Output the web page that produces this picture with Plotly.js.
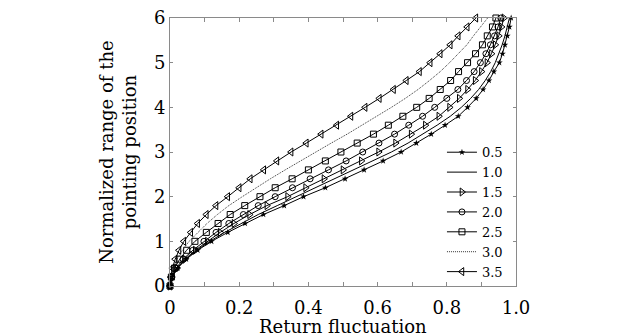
<!DOCTYPE html>
<html>
<head>
<meta charset="utf-8">
<script src="https://cdn.plot.ly/plotly-3.0.1.min.js"></script>
<style>html,body{margin:0;padding:0;background:#fff;}#chart{width:618px;height:336px;}</style>
</head>
<body>
<div id="chart"></div>
<script>
// Normalized range of the pointing position (shared y grid)
const yRange = [0,0.2,0.4,0.6,0.8,1.0,1.2,1.4,1.6,1.8,2.0,2.2,2.4,2.6,2.8,3.0,3.2,3.4,3.6,3.8,4.0,4.2,4.4,4.6,4.8,5.0,5.2,5.4,5.6,5.8,6.0];
// Return fluctuation for each parameter value
const x05 = [0,0.006,0.022,0.047,0.08,0.12,0.167,0.217,0.27,0.33,0.386,0.449,0.506,0.561,0.616,0.668,0.712,0.755,0.795,0.833,0.86,0.885,0.905,0.922,0.936,0.952,0.961,0.968,0.975,0.981,0.986];
const x10 = [0,0.006,0.021,0.045,0.077,0.115,0.158,0.205,0.255,0.31,0.365,0.423,0.48,0.535,0.59,0.64,0.688,0.732,0.772,0.81,0.842,0.869,0.892,0.911,0.927,0.94,0.951,0.96,0.968,0.975,0.981];
const x15 = [0,0.005,0.02,0.043,0.073,0.108,0.145,0.185,0.23,0.28,0.34,0.392,0.445,0.5,0.553,0.603,0.652,0.697,0.738,0.777,0.808,0.836,0.86,0.882,0.9,0.916,0.929,0.94,0.95,0.958,0.965];
const x20 = [0,0.005,0.018,0.038,0.066,0.098,0.133,0.17,0.212,0.255,0.304,0.354,0.405,0.458,0.509,0.557,0.604,0.649,0.69,0.73,0.765,0.8,0.832,0.857,0.879,0.897,0.913,0.926,0.938,0.948,0.956];
const x25 = [0,0.004,0.013,0.028,0.048,0.072,0.105,0.139,0.174,0.216,0.26,0.304,0.353,0.4,0.449,0.494,0.541,0.588,0.631,0.673,0.713,0.749,0.781,0.811,0.834,0.86,0.883,0.903,0.917,0.932,0.942];
const x30 = [0,0.003,0.01,0.02,0.036,0.055,0.081,0.107,0.137,0.17,0.209,0.248,0.29,0.333,0.376,0.42,0.466,0.512,0.556,0.598,0.64,0.68,0.717,0.75,0.781,0.808,0.834,0.858,0.877,0.898,0.918];
const x35 = [0,0.002,0.007,0.015,0.026,0.04,0.06,0.08,0.105,0.133,0.167,0.2,0.232,0.271,0.309,0.35,0.394,0.437,0.482,0.523,0.564,0.605,0.646,0.683,0.721,0.752,0.781,0.81,0.833,0.859,0.884];
const seriesNames = ['0.5','1.0','1.5','2.0','2.5','3.0','3.5'];
const xTickVals = [0,0.2,0.4,0.6,0.8,1.0];
const xTickText = ['0','0.2','0.4','0.6','0.8','1.0'];
const yTickVals = [0,1,2,3,4,5,6];
const xTitle = 'Return fluctuation';
const yTitle = 'Normalized range of the<br>pointing position';

const serif = 'DejaVu Serif, Liberation Serif, serif';
const black = '#000';
const xs = [x05,x10,x15,x20,x25,x30,x35];
const styles = [
  {mode:'lines+markers', marker:{symbol:'star', size:5, color:black}, line:{color:black,width:1}},
  {mode:'lines', line:{color:black,width:1}},
  {mode:'lines+markers', marker:{symbol:'triangle-right-open', size:7, color:black, line:{width:1}}, line:{color:black,width:1}},
  {mode:'lines+markers', marker:{symbol:'circle-open', size:6, color:black, line:{width:1}}, line:{color:black,width:1}},
  {mode:'lines+markers', marker:{symbol:'square-open', size:6, color:black, line:{width:1}}, line:{color:black,width:1}},
  {mode:'lines', line:{color:'#333',width:1,dash:'1px,1px'}},
  {mode:'lines+markers', marker:{symbol:'triangle-left-open', size:7, color:black, line:{width:1}}, line:{color:black,width:1}}
];
const data = seriesNames.map((n,i)=>Object.assign({
  type:'scatter', x:xs[i], y:yRange, name:n, cliponaxis:false
}, styles[i]));

const axisCommon = {
  showgrid:false, zeroline:false, showline:true, linecolor:'#8a8a8a', linewidth:1,
  mirror:'ticks', ticks:'inside', tickcolor:'#8a8a8a', tickwidth:1,
  tickfont:{family:serif, size:18, color:black}
};
const layout = {
  width:618, height:336,
  margin:{l:169.5, r:102, t:18, b:50},
  paper_bgcolor:'#fff', plot_bgcolor:'#fff',
  font:{family:serif, color:black},
  showlegend:true,
  legend:{x:0.786, xanchor:'left', y:0.555, yanchor:'top', bgcolor:'rgba(0,0,0,0)',
          font:{family:serif, size:13, color:black}, borderwidth:0},
  xaxis:Object.assign({}, axisCommon, {
    range:[0,1], tickmode:'array', tickvals:xTickVals, ticktext:xTickText, ticklen:4,
    ticklabelstandoff:5,
    minor:{dtick:0.1, ticks:'inside', ticklen:4, tickcolor:'#8a8a8a'}
  }),
  yaxis:Object.assign({}, axisCommon, {
    range:[0,6], tickmode:'array', tickvals:yTickVals, ticklen:3,
    title:{text:yTitle, font:{family:serif, size:18, color:black}, standoff:12}
  }),
  annotations:[{
    text:xTitle, xref:'paper', yref:'paper', x:0.5, y:-0.152, xanchor:'center', yanchor:'middle',
    showarrow:false, font:{family:serif, size:18, color:black}
  }]
};
Plotly.newPlot('chart', data, layout, {staticPlot:true, displayModeBar:false});
</script>
</body>
</html>
